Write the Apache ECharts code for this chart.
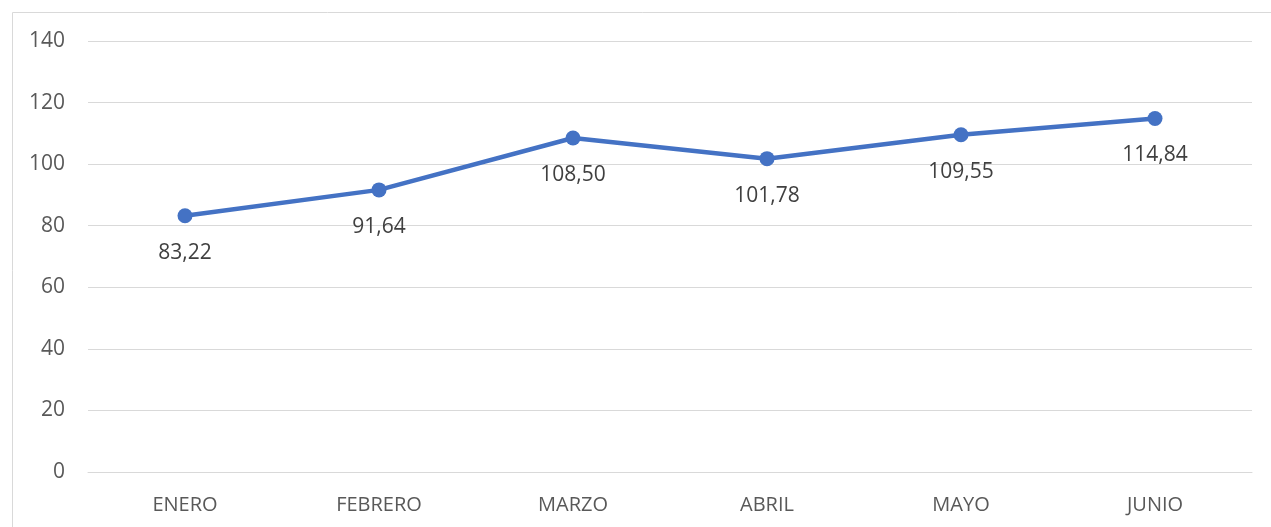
<!DOCTYPE html>
<html>
<head>
    <meta charset="UTF-8">
    <script src="https://cdn.jsdelivr.net/npm/echarts@6/dist/echarts.min.js"></script>
    <style>
        html, body { margin: 0; padding: 0; background: #fff; }
    </style>
</head>
<body>
<div id="chart" style="width: 1271px;height:527px;"></div>
<script type="text/javascript">
    // meses y valores
    var meses = ['ENERO', 'FEBRERO', 'MARZO', 'ABRIL', 'MAYO', 'JUNIO'];
    var valores = [83.22, 91.64, 108.50, 101.78, 109.55, 114.84];
    var yTicks = { min: 0, max: 140, interval: 20 };

    var myChart = echarts.init(document.getElementById('chart'));
    var fuente = "'Open Sans', 'Noto Sans', sans-serif";

    var option = {
        animation: false,
        graphic: [{
            type: 'rect',
            shape: { x: 12.5, y: 12.5, width: 1400, height: 700 },
            style: { fill: 'none', stroke: '#d9d9d9', lineWidth: 1 },
            silent: true
        }],
        grid: {
            left: 88,
            right: 19,
            top: 41,
            bottom: 55
        },
        xAxis: {
            type: 'category',
            data: meses,
            axisLine: { lineStyle: { color: '#d9d9d9', width: 1 } },
            axisTick: { show: false },
            axisLabel: {
                color: '#595959',
                fontSize: 20,
                fontFamily: fuente,
                margin: 23
            }
        },
        yAxis: {
            type: 'value',
            min: yTicks.min,
            max: yTicks.max,
            interval: yTicks.interval,
            axisLine: { show: false },
            axisTick: { show: false },
            splitLine: { lineStyle: { color: '#d9d9d9', width: 1 } },
            axisLabel: {
                color: '#595959',
                fontSize: 21,
                fontFamily: fuente,
                margin: 23
            }
        },
        series: [{
            type: 'line',
            data: valores,
            symbol: 'circle',
            symbolSize: 15,
            lineStyle: { color: '#4472C4', width: 4.5 },
            itemStyle: { color: '#4472C4' },
            label: {
                show: true,
                position: 'bottom',
                distance: 19,
                color: '#404040',
                fontSize: 21,
                fontFamily: fuente,
                formatter: function (p) {
                    return p.value.toFixed(2).replace('.', ',');
                }
            }
        }]
    };
    myChart.setOption(option);
</script>
</body>
</html>
